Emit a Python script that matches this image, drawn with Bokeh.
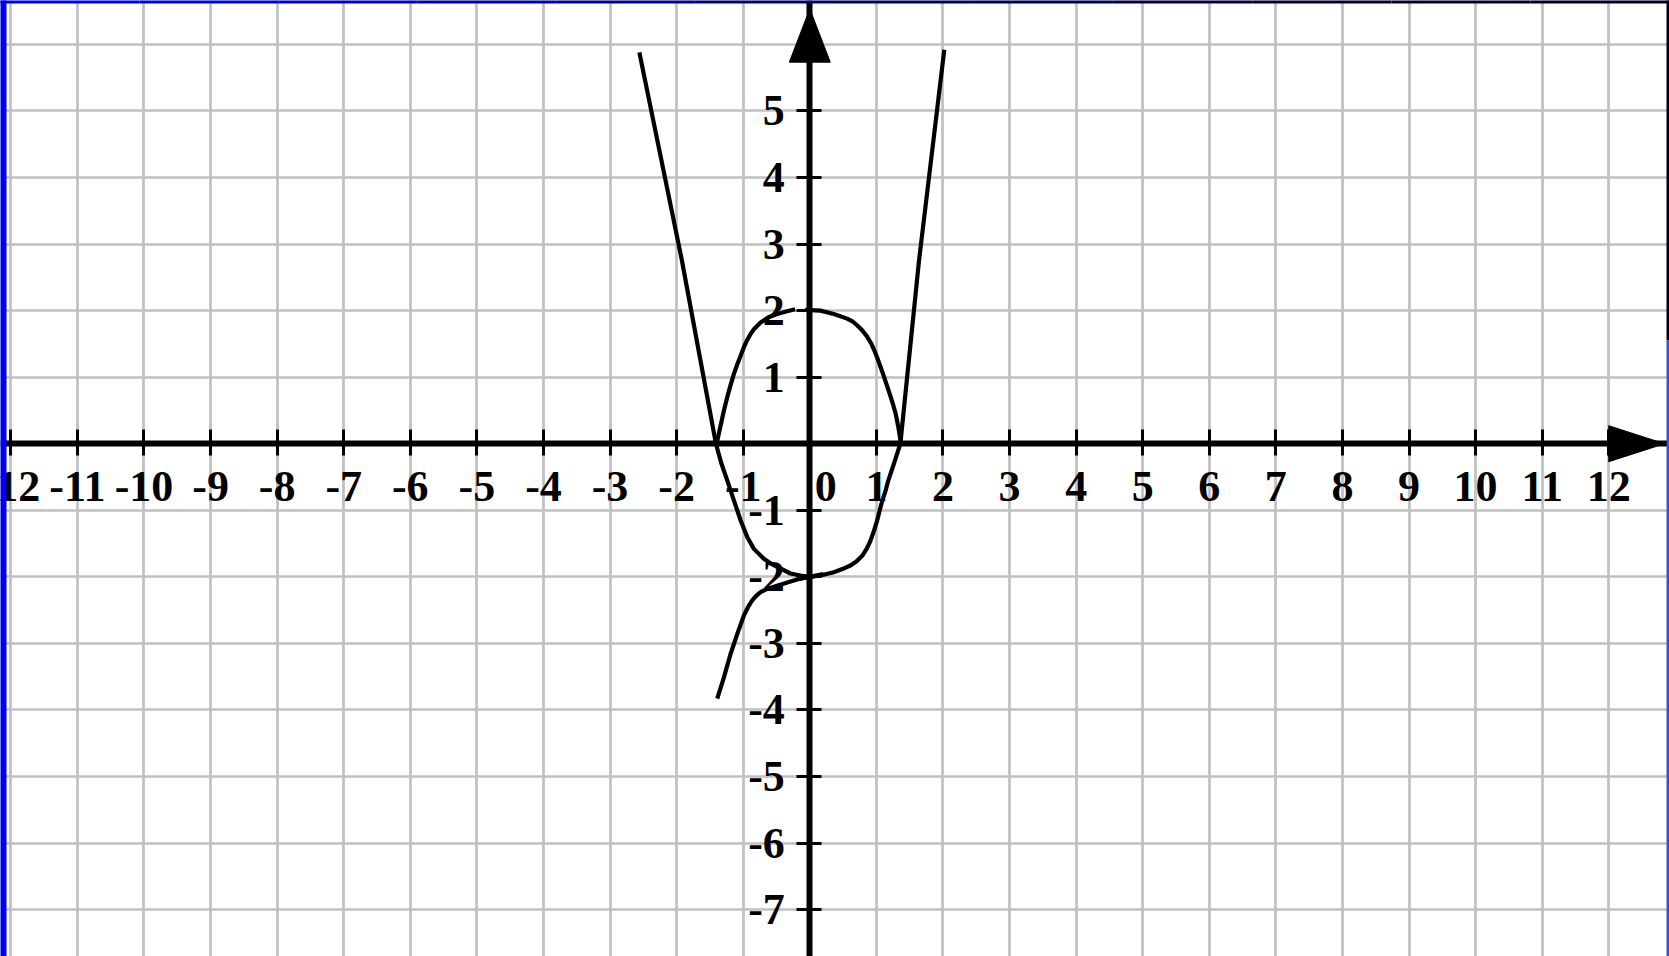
from bokeh.plotting import figure
from bokeh.models import LinearAxis, FixedTicker, Grid
from bokeh.core.properties import value
from bokeh.embed import file_html
from bokeh.resources import INLINE

# ---------------- data ----------------
x_ticks = [-12, -11, -10, -9, -8, -7, -6, -5, -4, -3, -2, -1, 1, 2, 3, 4, 5, 6, 7, 8, 9, 10, 11, 12]
y_ticks = [-7, -6, -5, -4, -3, -2, -1, 1, 2, 3, 4, 5]
x_tick_labels = {t: str(t) for t in x_ticks}   # plain hyphen minus, as in the picture
y_tick_labels = {t: str(t) for t in y_ticks}
x_grid = list(range(-12, 13))
y_grid = list(range(-7, 7))
origin_label = ["0"]
edge_tick = [-12]          # label cut by the slide edge

# U-shaped curve
u_x = [-2.56, -1.92, -1.41, -1.33, -1.24, -1.14, -1.04, -0.94, -0.84, -0.69, -0.57, -0.49,
       -0.29, -0.14, 0.00, 0.16, 0.36, 0.52, 0.61, 0.70, 0.79, 0.86, 0.91, 0.96, 1.01,
       1.05, 1.09, 1.14, 1.18, 1.27, 1.36, 1.64, 2.02]
u_y = [5.88, 2.75, 0.00, -0.29, -0.55, -0.85, -1.15, -1.40, -1.58, -1.73, -1.81, -1.85,
       -1.95, -1.98, -2.00, -1.98, -1.93, -1.87, -1.83, -1.77, -1.68, -1.57, -1.46, -1.32, -1.16,
       -1.00, -0.85, -0.70, -0.55, -0.28, 0.00, 2.75, 5.92]

# cap-shaped curve, left and right pieces
cap_l_x = [-1.40, -1.34, -1.29, -1.24, -1.19, -1.14, -1.09, -1.04, -0.99, -0.94, -0.89,
           -0.84, -0.74, -0.62, -0.49, -0.34, -0.22]
cap_l_y = [0.00, 0.27, 0.50, 0.70, 0.88, 1.05, 1.19, 1.32, 1.45, 1.56, 1.65,
           1.72, 1.82, 1.90, 1.95, 1.99, 2.02]
cap_r_x = [-0.07, 0.16, 0.36, 0.56, 0.64, 0.71, 0.79, 0.86, 0.92, 0.97, 1.01, 1.06,
           1.11, 1.16, 1.21, 1.25, 1.29, 1.33, 1.37]
cap_r_y = [2.01, 2.00, 1.95, 1.88, 1.84, 1.78, 1.70, 1.61, 1.51, 1.40, 1.30, 1.16,
           1.02, 0.87, 0.72, 0.59, 0.45, 0.25, 0.00]

# cubic-like lower curve
cub_x = [-1.39, -1.29, -1.19, -1.09, -0.99, -0.93, -0.87, -0.81, -0.74, -0.64, -0.54, -0.42,
         -0.29, -0.15, 0.00, 0.20]
cub_y = [-3.83, -3.51, -3.16, -2.86, -2.58, -2.46, -2.36, -2.29, -2.23, -2.18, -2.15, -2.11,
         -2.07, -2.03, -2.00, -1.96]

# ---------------- figure ----------------
W, H = 1669, 956
X0, X1 = -12.155, 12.912
Y0, Y1 = -7.705, 6.660
ux = W / (X1 - X0)   # px per unit
uy = H / (Y1 - Y0)

p = figure(width=W, height=H, x_range=(X0, X1), y_range=(Y0, Y1),
           output_backend="svg", toolbar_location=None,
           x_axis_location=None, y_axis_location=None,
           min_border=0, outline_line_color=None,
           background_fill_color="white", border_fill_color="white")

grid_color = "#c0c0c0"
p.add_layout(Grid(dimension=0, ticker=FixedTicker(ticks=x_grid),
                  grid_line_color=grid_color, grid_line_width=2.7))
p.add_layout(Grid(dimension=1, ticker=FixedTicker(ticks=y_grid),
                  grid_line_color=grid_color, grid_line_width=2.7))

FONT = "Liberation Serif"
FS = "44px"
X_TICK_OUT, X_STANDOFF = 12, 16

axis_x_labels = dict(x_tick_labels)
for t in edge_tick:
    axis_x_labels[t] = ""     # drawn below as plain text so the slide edge can cut it

xaxis = LinearAxis(fixed_location=0, ticker=FixedTicker(ticks=x_ticks),
                   major_label_overrides=axis_x_labels,
                   axis_line_width=6, axis_line_color="black",
                   major_tick_in=14, major_tick_out=X_TICK_OUT, major_tick_line_width=3,
                   major_tick_line_color="black", minor_tick_line_color=None,
                   major_label_text_font=FONT, major_label_text_font_style="bold",
                   major_label_text_font_size=FS, major_label_text_color="black",
                   major_label_standoff=X_STANDOFF)
p.add_layout(xaxis, "below")

yaxis = LinearAxis(fixed_location=0, ticker=FixedTicker(ticks=y_ticks),
                   major_label_overrides=y_tick_labels,
                   axis_line_width=6, axis_line_color="black",
                   major_tick_in=12, major_tick_out=13, major_tick_line_width=3,
                   major_tick_line_color="black", minor_tick_line_color=None,
                   major_label_text_font=FONT, major_label_text_font_style="bold",
                   major_label_text_font_size=FS, major_label_text_color="black",
                   major_label_standoff=12)
p.add_layout(yaxis, "left")

label_style = dict(text_baseline="top", text_font=value(FONT), text_font_style="bold",
                   text_font_size=FS, text_color="black")
# the "0" label, shifted right of the vertical axis
p.text(x=[0], y=[0], text=origin_label, x_offset=16, y_offset=X_TICK_OUT + X_STANDOFF,
       text_align="center", **label_style)
# the edge label, partly hidden by the slide border
p.text(x=edge_tick, y=[0] * len(edge_tick), text=[x_tick_labels[t] for t in edge_tick],
       y_offset=X_TICK_OUT + X_STANDOFF, text_align="center", **label_style)

# curves
lw = 4.2
p.line(u_x, u_y, line_color="black", line_width=lw, line_join="round")
p.line(cap_l_x, cap_l_y, line_color="black", line_width=lw, line_join="round")
p.line(cap_r_x, cap_r_y, line_color="black", line_width=lw, line_join="round")
p.line(cub_x, cub_y, line_color="black", line_width=lw, line_join="round")

# arrow heads at the axis ends
ax_tip = X0 + 1664 / ux
ax_base = 12.0
ah = 18 / uy
p.patch([ax_base, ax_tip, ax_base], [ah, 0, -ah], color="black")
ay_tip = Y1 - 8.3 / uy
ay_base = Y1 - 61.7 / uy
aw = 20.5 / ux
p.patch([-aw, 0, aw], [ay_base, ay_tip, ay_base], color="black")

# slide frame: blue edges
left_w = 6 / ux
top_h = 3 / uy
right_w = 3 / ux
p.quad(left=[X0], right=[X0 + left_w], bottom=[Y0], top=[Y1],
       color="#0000ee", line_width=0, level="overlay")
top_cols = ["#0000e8", "#0000d8", "#0000c4", "#0000aa", "#000090", "#00007a",
            "#000064", "#000050", "#000040", "#000034", "#00002c", "#000026"]
n = len(top_cols)
seg = (X1 - X0) / n
p.quad(left=[X0 + i * seg for i in range(n)], right=[X0 + (i + 1) * seg for i in range(n)],
       bottom=[Y1 - top_h] * n, top=[Y1] * n, color=top_cols, line_width=0, level="overlay")
split_y = Y1 - 340 / uy
p.quad(left=[X1 - right_w] * 2, right=[X1] * 2, bottom=[split_y, Y0], top=[Y1, split_y],
       color=["#000022", "#3050e6"], line_width=0, level="overlay")

open("out.html", "w").write(file_html(p, INLINE))
